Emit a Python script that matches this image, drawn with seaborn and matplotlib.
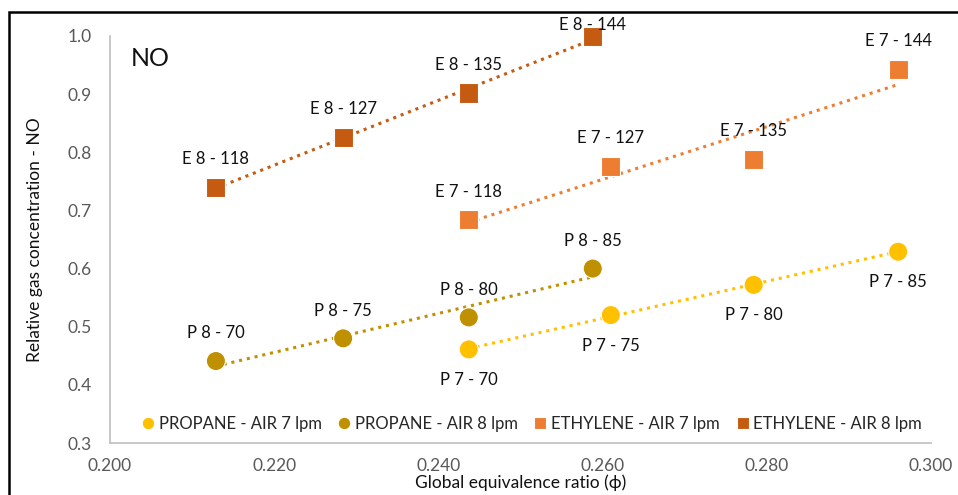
import numpy as np
import pandas as pd
import seaborn as sns
import matplotlib.pyplot as plt
from matplotlib.patches import Rectangle

# ---------------- data ----------------
series_names = ['PROPANE - AIR 7 lpm', 'PROPANE - AIR 8 lpm',
                'ETHYLENE - AIR 7 lpm', 'ETHYLENE - AIR 8 lpm']

p7_phi = [0.2437, 0.2610, 0.2784, 0.2960]
p7_no = [0.461, 0.520, 0.572, 0.629]
p7_lab = ['P 7 - 70', 'P 7 - 75', 'P 7 - 80', 'P 7 - 85']

p8_phi = [0.2129, 0.2284, 0.2437, 0.2588]
p8_no = [0.441, 0.480, 0.516, 0.600]
p8_lab = ['P 8 - 70', 'P 8 - 75', 'P 8 - 80', 'P 8 - 85']

e7_phi = [0.2437, 0.2610, 0.2784, 0.2960]
e7_no = [0.684, 0.776, 0.788, 0.943]
e7_lab = ['E 7 - 118', 'E 7 - 127', 'E 7 - 135', 'E 7 - 144']

e8_phi = [0.2129, 0.2284, 0.2437, 0.2588]
e8_no = [0.740, 0.826, 0.902, 0.999]
e8_lab = ['E 8 - 118', 'E 8 - 127', 'E 8 - 135', 'E 8 - 144']

x_ticks = [0.200, 0.220, 0.240, 0.260, 0.280, 0.300]
y_ticks = [0.3, 0.4, 0.5, 0.6, 0.7, 0.8, 0.9, 1.0]

# ---------------- build a long table ----------------
frames = []
for name, x, y, lab in zip(series_names,
                           [p7_phi, p8_phi, e7_phi, e8_phi],
                           [p7_no, p8_no, e7_no, e8_no],
                           [p7_lab, p8_lab, e7_lab, e8_lab]):
    frames.append(pd.DataFrame({'phi': x, 'no': y, 'label': lab, 'series': name}))
data = pd.concat(frames, ignore_index=True)

colors = {'PROPANE - AIR 7 lpm': '#FFC000', 'PROPANE - AIR 8 lpm': '#BF9000',
          'ETHYLENE - AIR 7 lpm': '#ED7D31', 'ETHYLENE - AIR 8 lpm': '#C55A11'}
markers = {'PROPANE - AIR 7 lpm': 'o', 'PROPANE - AIR 8 lpm': 'o',
           'ETHYLENE - AIR 7 lpm': 's', 'ETHYLENE - AIR 8 lpm': 's'}

sns.set_style('white')
plt.rcParams['font.family'] = ['Lato', 'DejaVu Sans']

fig = plt.figure(figsize=(9.58, 4.95), dpi=100)
ax = fig.add_axes([110 / 958, 1 - 443 / 495, 821 / 958, 407 / 495])

# linear trendlines (dotted) behind the markers
for name in series_names:
    d = data[data.series == name]
    k, b = np.polyfit(d.phi, d.no, 1)
    xs = np.array([d.phi.min(), d.phi.max()])
    ax.plot(xs, k * xs + b, linestyle=(0, (1, 1.6)), linewidth=2.2,
            color=colors[name], zorder=2)

sns.scatterplot(data=data, x='phi', y='no', hue='series', style='series',
                palette=colors, markers=markers, s=190, edgecolor='white',
                linewidth=0.8, ax=ax, zorder=3)
for c in ax.collections:
    c.set_clip_on(False)

# point labels
offsets = {'PROPANE - AIR 7 lpm': -22, 'PROPANE - AIR 8 lpm': 20,
           'ETHYLENE - AIR 7 lpm': 20, 'ETHYLENE - AIR 8 lpm': 20}
for _, r in data.iterrows():
    off = offsets[r.series]
    if r.label == 'E 8 - 144':
        off = 8
    ax.annotate(r.label, (r.phi, r.no), xytext=(0, off), textcoords='offset points',
                ha='center', va='center', fontsize=12, color='#111111', zorder=4,
                annotation_clip=False)

ax.text(0.2025, 0.962, 'NO', fontsize=18, color='#111111', va='center', ha='left')

ax.set_xlim(0.200, 0.300)
ax.set_ylim(0.3, 1.0)
ax.set_xticks(x_ticks)
ax.set_xticklabels([f'{t:.3f}' for t in x_ticks])
ax.set_yticks(y_ticks)
ax.set_yticklabels([f'{t:.1f}' for t in y_ticks])
ax.tick_params(axis='both', direction='inout', length=8, width=1.2,
               color='#BFBFBF', labelcolor='#595959', labelsize=12.5)
ax.tick_params(axis='x', pad=7)
ax.tick_params(axis='y', pad=9)
for s in ['top', 'right']:
    ax.spines[s].set_visible(False)
for s in ['left', 'bottom']:
    ax.spines[s].set_color('#BFBFBF')
    ax.spines[s].set_linewidth(1.2)

ax.set_xlabel('Global equivalence ratio (\u03d5)', fontsize=12.5, color='#111111', labelpad=0)
ax.set_ylabel('Relative gas concentration - NO', fontsize=12.5, color='#111111', labelpad=18)

handles, labels = ax.get_legend_handles_labels()
for h in handles:
    h.set_markersize(9)
ax.legend(handles, labels, loc='lower center', bbox_to_anchor=(0.513, 0.0),
          ncol=4, frameon=False, fontsize=12, handlelength=0.9, handletextpad=0.2,
          columnspacing=0.9, borderaxespad=0.25)

# outer chart frame
fig.patches.append(Rectangle((9 / 958, -0.05), 1.0, 1 - 12 / 495 + 0.05,
                             transform=fig.transFigure, fill=False,
                             edgecolor='black', linewidth=1.8))

plt.savefig('out.png', dpi=100)
